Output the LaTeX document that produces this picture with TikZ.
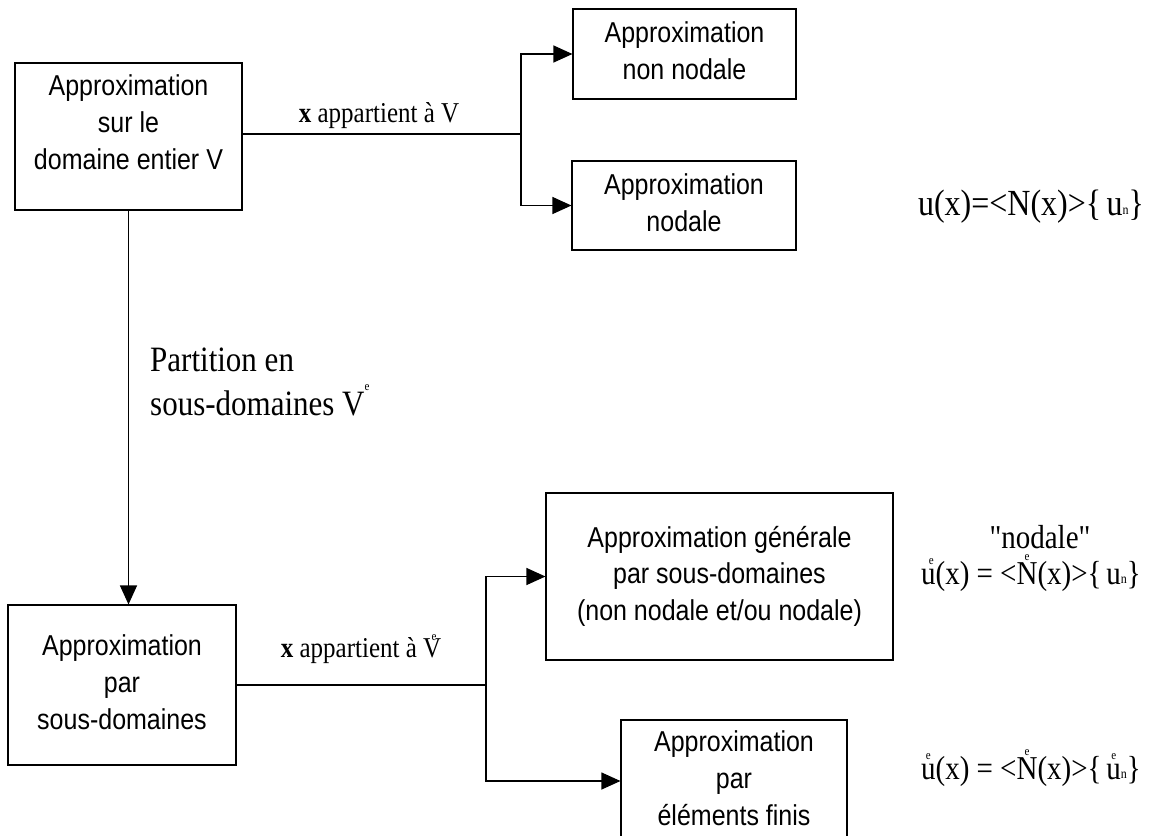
\documentclass[tikz,border=0pt]{standalone}
\usepackage{fontspec}
\usepackage{graphicx}
\setmainfont{Liberation Serif}
\newfontfamily\boxfont{Liberation Sans}
\newfontfamily\plainserif{Liberation Serif}
\usetikzlibrary{arrows.meta}

% text slightly stretched vertically, as in the printed figure
\newcommand{\tallbox}[1]{\scalebox{1}[1.15]{#1}}
\newcommand{\boxtext}[1]{\tallbox{\begin{tabular}{@{}c@{}}#1\end{tabular}}}
% small "e" set above a letter (element index)
\newcommand{\eon}[2][0pt]{\setbox0\hbox{#2}\rlap{\copy0}\hbox to\wd0{\hss\kern#1\raisebox{0.6em}{\fontsize{11}{11}\selectfont e}\hss}}
\newcommand{\eonN}[2][0pt]{\setbox0\hbox{#2}\rlap{\copy0}\hbox to\wd0{\hss\kern#1\raisebox{0.74em}{\fontsize{11}{11}\selectfont e}\hss}}
% small nodal index "n"
\newcommand{\nidx}{{\fontsize{12}{12}\selectfont\raisebox{0.1em}{n}}}

\begin{document}
\begin{tikzpicture}[x=1pt,y=-1pt,
  box/.style={draw, line width=1.1pt, inner sep=0pt,
    font=\boxfont\fontsize{25}{32}\selectfont},
  link/.style={line width=1.1pt},
  arr/.style={link, -{Triangle[length=19pt,width=17pt]}},
  lbl/.style={inner sep=0pt, font=\fontsize{25}{30}\selectfont},
  big/.style={inner sep=0pt, font=\fontsize{31}{37}\selectfont},
  formula/.style={inner sep=0pt, font=\fontsize{29}{34}\selectfont}]

\path[use as bounding box, fill=white] (0,0) rectangle (1163,836);
\clip (0,0) rectangle (1163,836);

% boxes
\node[box, minimum width=227pt, minimum height=147pt] (A) at (128.5,136.5) {};
\node[inner sep=0pt, font=\boxfont\fontsize{25}{32}\selectfont] (At) at (128.5,125)
  {\boxtext{Approximation\\sur le\\domaine entier V}};
\node[box, minimum width=223pt, minimum height=90pt] (N1) at (684.5,54)
  {\boxtext{Approximation\\non nodale}};
\node[box, minimum width=224pt, minimum height=89pt] (N2) at (684,205.5)
  {\boxtext{Approximation\\nodale}};
\node[box, minimum width=228pt, minimum height=160pt] (B) at (122,685)
  {\boxtext{Approximation\\par\\sous-domaines}};
\node[box, minimum width=347pt, minimum height=167pt] (G) at (719.5,576.5)
  {\boxtext{Approximation générale\\par sous-domaines\\(non nodale et/ou nodale)}};
\node[box, minimum width=226pt, minimum height=122pt] (E) at (734,781)
  {\boxtext{Approximation\\par\\éléments finis}};

% branching points
\coordinate (j1) at (521,134);
\coordinate (j2) at (486,685);

% connectors
\draw[link] (A.east |- j1) -- (j1);
\draw[arr] (j1) |- (N1.west);
\draw[arr] (j1) |- (N2.west);
\draw[arr] (A.south) -- (A.south |- B.north);
\draw[link] (B.east) -- (j2);
\draw[arr] (j2) |- (G.west);
\draw[arr] (j2) |- (E.west);

% connector labels
\node[lbl] (l1) at (379,116) {\tallbox{\textbf{x} appartient à V}};
\node[lbl] (l2) at (361,649) {\tallbox{\textbf{x} appartient à \eon[4pt]{V}}};
\node[big, anchor=west] (l3) at (150,385)
  {\tallbox{\begin{tabular}{@{}l@{}}Partition en\\sous-domaines V\raisebox{0.7em}{\fontsize{11}{11}\selectfont e}\end{tabular}}};

% approximation formulas
\node[formula, font=\fontsize{32}{36}\selectfont] (f1) at (1031,207)
  {\tallbox{u(x)=<N(x)>\{\,u\nidx\}}};
\node[formula, font=\plainserif\fontsize{29}{34}\selectfont] (f2t) at (1040,537)
  {\tallbox{"nodale"}};
\node[formula] (f2) at (1031,573) {\tallbox{\eon[6pt]{u}(x) = <\eonN{N}(x)>\{\,u\nidx\}}};
\node[formula] (f3) at (1031,768) {\tallbox{\eon{u}(x) = <\eonN{N}(x)>\{\,\eon{u}\nidx\}}};
\end{tikzpicture}
\end{document}
